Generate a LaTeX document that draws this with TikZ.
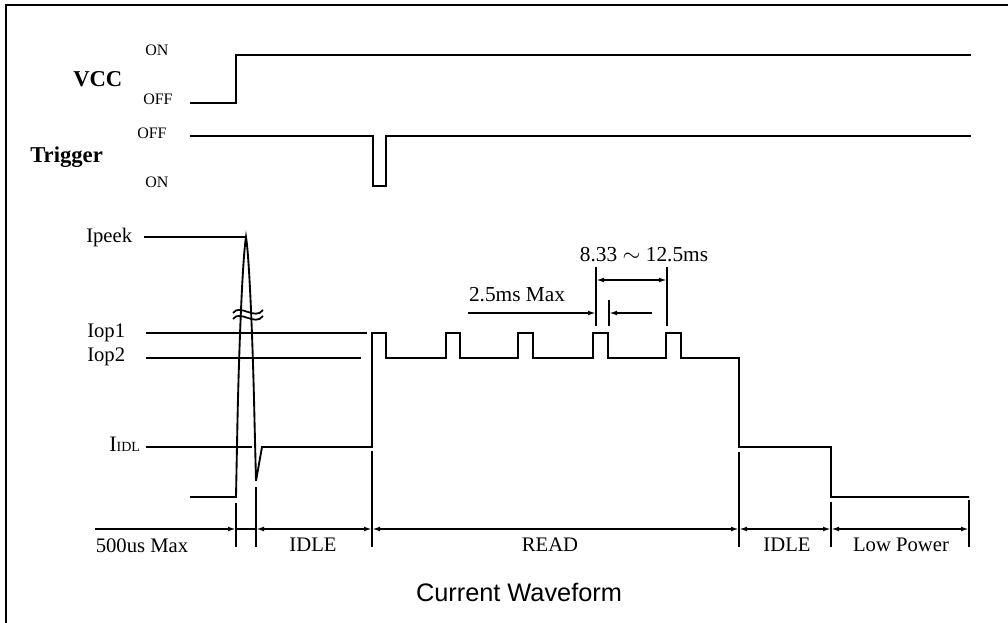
\documentclass[tikz,border=0pt]{standalone}
\usepackage{fontspec}
\setmainfont{Liberation Serif}
\newfontfamily\sansf{Liberation Sans}
\usetikzlibrary{arrows.meta}
\tikzset{
  wave/.style={line width=1.4pt, line join=miter},
  dimline/.style={line width=1.3pt},
  tickline/.style={line width=1.3pt},
  darrow/.style={line width=1.3pt, {Latex[length=6pt,width=3.6pt]}-{Latex[length=6pt,width=3.6pt]}},
  rarrow/.style={line width=1.3pt, -{Latex[length=6pt,width=3.6pt]}},
  lbl/.style={font=\fontsize{15.5}{18}\selectfont, inner sep=0pt},
  onoff/.style={font=\fontsize{12}{14}\selectfont, inner sep=0pt, anchor=base west},
  sig/.style={font=\fontsize{17}{20}\selectfont\bfseries, inner sep=0pt, anchor=base west},
  dimlbl/.style={font=\fontsize{16}{19}\selectfont, inner sep=0pt, anchor=base},
}
\begin{document}
\begin{tikzpicture}[x=0.75pt,y=-0.75pt]
\useasboundingbox (0,0) rectangle (1008,623);
% frame
\draw[line width=1.5pt] (6,623) -- (6,5) -- (1008,5);

% VCC
\node[sig] (vcc) at (73,87) {VCC};
\node[onoff] (von) at (145,56) {ON};
\node[onoff] (voff) at (143,105) {OFF};
\draw[wave] (190,103) -- (236,103) -- (236,55) -- (971,55);

% Trigger
\node[sig] (trig) at (30,163) {Trigger};
\node[onoff] (toff) at (137,139) {OFF};
\node[onoff] (ton) at (145,188) {ON};
\draw[wave] (190,136) -- (373,136) -- (373,186) -- (386,186) -- (386,136) -- (971,136);

% current level labels
\node[lbl, anchor=base west] (ipeek) at (86,243) {Ipeek};
\node[lbl, anchor=base west] (iop1) at (87,338) {Iop1};
\node[lbl, anchor=base west] (iop2) at (87,362) {Iop2};
\node[inner sep=0pt, anchor=base west] (iidl) at (109,452) {\fontsize{16.5}{19}\selectfont I\fontsize{10.5}{12}\selectfont IDL};

\draw[wave] (144,237) -- (246,237);
\draw[wave] (146,333) -- (367,333);
\draw[wave] (146,358) -- (361,358);
\draw[wave] (146,447) -- (252,447);

% current waveform
\draw[wave] (190,497) -- (236,497) -- (237.5,420)
  .. controls (239.5,330) and (243,255) .. (246,237)
  .. controls (249,255) and (252.5,330) .. (254.5,420)
  -- (256,481) -- (262,447) -- (372,447) -- (372,333)
  -- (386,333) -- (386,358) -- (446,358) -- (446,333)
  -- (460,333) -- (460,358) -- (518,358) -- (518,333)
  -- (533,333) -- (533,358) -- (593,358) -- (593,333)
  -- (608,333) -- (608,358) -- (666,358) -- (666,333)
  -- (681,333) -- (681,358) -- (739,358) -- (739,447)
  -- (831,447) -- (831,497) -- (969,497);

% break mark
\draw[line width=1.3pt] (233,313) .. controls (240,303) and (255,321) .. (263,310);
\draw[line width=1.3pt] (233,319) .. controls (240,309) and (255,327) .. (263,316);

% dimension marks top
\coordinate (e1t) at (596,267); \coordinate (e1b) at (596,326);
\coordinate (e2t) at (667,267); \coordinate (e2b) at (667,326);
\coordinate (e3t) at (609,300); \coordinate (e3b) at (609,326);
\draw[dimline] (e1t) -- (e1b);
\draw[dimline] (e2t) -- (e2b);
\draw[dimline] (e3t) -- (e3b);
\coordinate (p1) at (596,280); \coordinate (p2) at (667,280);
\draw[darrow] (p1) -- (p2);
\coordinate (q0) at (468,313); \coordinate (q1) at (596,313);
\coordinate (q2) at (609,313); \coordinate (q3) at (652,313);
\draw[rarrow] (q0) -- (q1);
\draw[rarrow] (q3) -- (q2);
\node[dimlbl] (per) at (644,262) {8.33 $\sim$ 12.5ms};
\node[dimlbl] (max) at (517,302) {2.5ms Max};

% time axis
\coordinate (a0) at (95,529);
\coordinate (a1) at (236,529);
\coordinate (a2) at (256,529);
\coordinate (a3) at (372,529);
\coordinate (a4) at (739,529);
\coordinate (a5) at (831,529);
\coordinate (a6) at (969,529);
\draw[rarrow] (a0) -- (a1);
\draw[line width=0.8pt] (a1) -- (a2);
\draw[darrow] (a2) -- (a3);
\draw[darrow] (a3) -- (a4);
\draw[darrow] (a4) -- (a5);
\draw[darrow] (a5) -- (a6);
\draw[tickline] (236,503) -- (236,547);
\draw[tickline] (256,487) -- (256,547);
\draw[tickline] (372,451) -- (372,547);
\draw[tickline] (739,452) -- (739,547);
\draw[tickline] (831,502) -- (831,547);
\draw[tickline] (969,500) -- (969,547);

\node[lbl, anchor=base] (l500) at (142,553) {500us Max};
\node[lbl, anchor=base] (lidle1) at (313,552) {IDLE};
\node[lbl, anchor=base] (lread) at (550,552) {READ};
\node[lbl, anchor=base] (lidle2) at (787,552) {IDLE};
\node[lbl, anchor=base] (llow) at (901,552) {Low Power};

\node[font=\sansf\fontsize{19}{22}\selectfont, inner sep=0pt, anchor=base] (title) at (519,602) {Current Waveform};
\end{tikzpicture}
\end{document}
